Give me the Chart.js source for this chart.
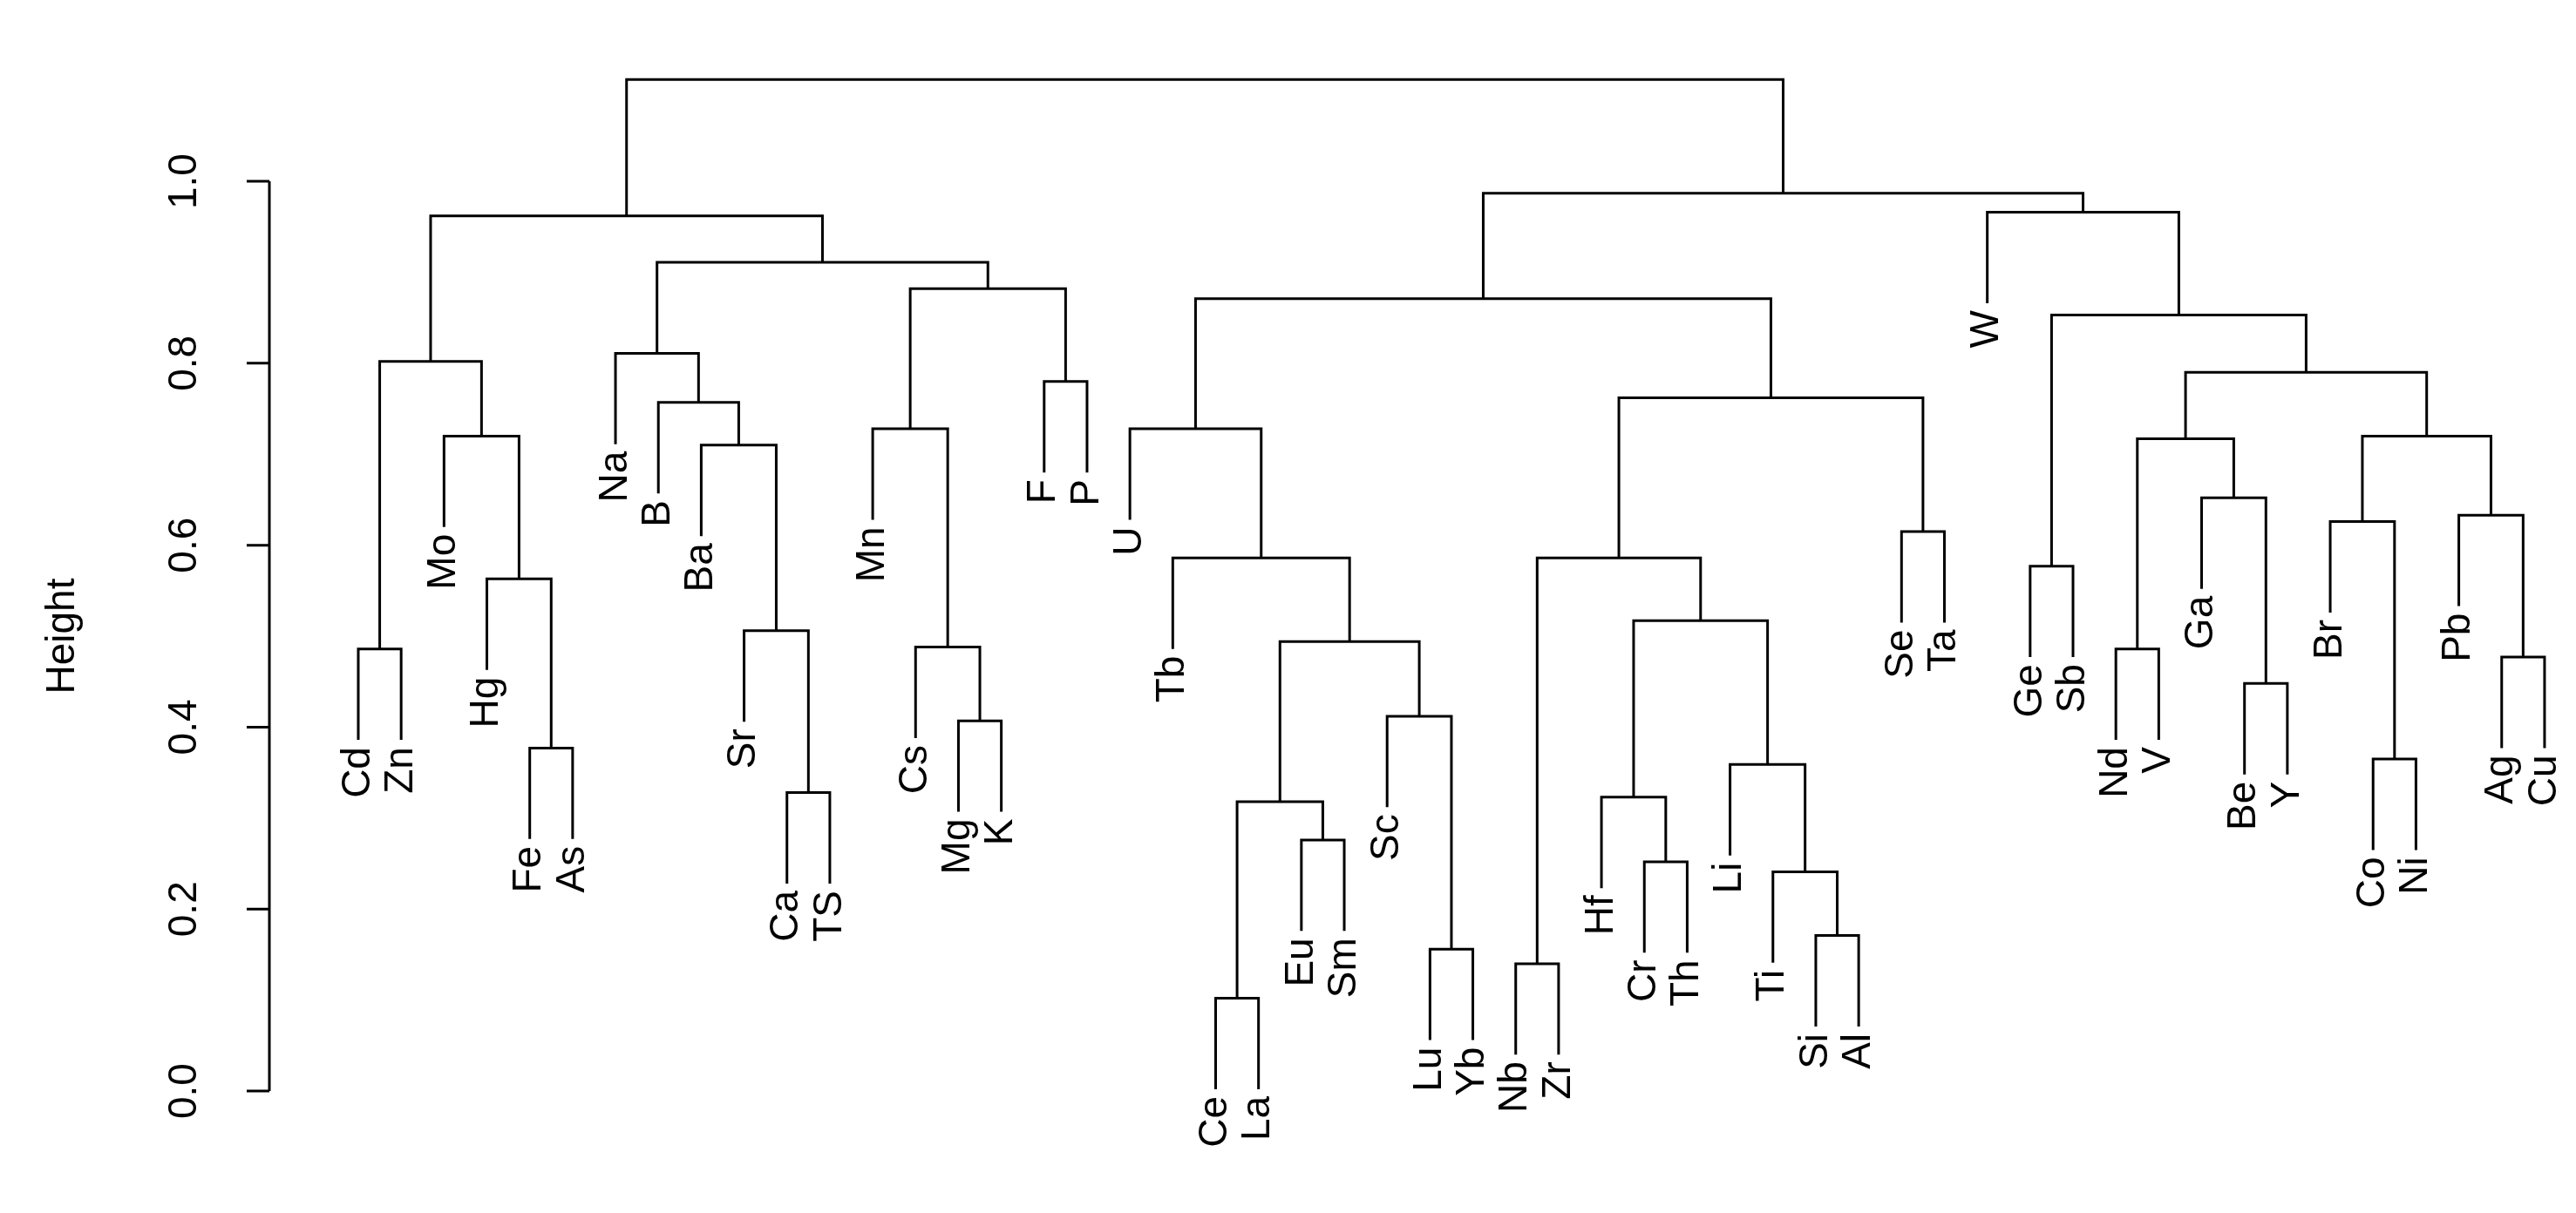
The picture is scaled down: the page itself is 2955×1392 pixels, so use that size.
<!DOCTYPE html>
<html>
<head>
<meta charset="utf-8">
<script src="https://cdn.jsdelivr.net/npm/chart.js@4/dist/chart.umd.min.js"></script>
<style>
html, body { margin: 0; padding: 0; background: #fff; }
#wrap { width: 2955px; height: 1392px; }
</style>
</head>
<body>
<div id="wrap"><canvas id="dendro"></canvas></div>
<script>
// leaf labels in plotted order
var leaves = ['Cd','Zn','Mo','Hg','Fe','As','Na','B','Ba','Sr','Ca','TS','Mn','Cs','Mg','K','F','P',
    'U','Tb','Ce','La','Eu','Sm','Sc','Lu','Yb','Nb','Zr','Hf','Cr','Th','Li','Ti','Si','Al','Se','Ta',
    'W','Ge','Sb','Nd','V','Ga','Be','Y','Br','Co','Ni','Pb','Ag','Cu'];

// merges: negative = leaf (1-based), positive = earlier merge (1-based)
var mergeLeft  = [-1,-5,-4,-3,1,-11,-10,-9,-8,-7,-15,-14,-13,-17,13,10,5,
    -21,-23,18,-26,-25,20,-20,-19,-28,-31,-30,-35,-34,-33,28,26,-37,33,25,
    -40,-42,-45,-44,38,-48,-47,-51,-50,43,41,37,-39,36,17];
var mergeRight = [-2,-6,2,3,4,-12,6,7,8,9,-16,11,12,-18,14,15,16,
    -22,-24,19,-27,21,22,23,24,-29,-32,27,-36,29,30,31,32,-38,34,35,
    -41,-43,-46,39,40,-49,42,-52,44,45,46,47,48,49,50];
var mergeHeight = [0.486,0.377,0.563,0.720,0.802,0.328,0.506,0.710,0.757,0.811,0.407,0.488,0.728,0.780,0.882,0.911,0.962,
    0.102,0.276,0.318,0.156,0.412,0.494,0.586,0.728,0.140,0.252,0.323,0.171,0.241,0.359,0.517,0.586,0.615,0.762,0.871,
    0.577,0.486,0.448,0.652,0.717,0.365,0.626,0.477,0.633,0.720,0.790,0.853,0.966,0.987,1.112];

var yTicks = [0.0, 0.2, 0.4, 0.6, 0.8, 1.0];
var hang = 0.1;

var nodeX = [];
var leafBottom = [];
var datasets = [];
function childX(c) { return c < 0 ? -c : nodeX[c - 1]; }
for (var i = 0; i < mergeHeight.length; i++) {
    var a = mergeLeft[i], b = mergeRight[i], h = mergeHeight[i];
    var xa = childX(a), xb = childX(b);
    var ya = a < 0 ? h - hang : mergeHeight[a - 1];
    var yb = b < 0 ? h - hang : mergeHeight[b - 1];
    if (a < 0) leafBottom[-a - 1] = ya;
    if (b < 0) leafBottom[-b - 1] = yb;
    nodeX.push((xa + xb) / 2);
    datasets.push({
        data: [{x: xa, y: ya}, {x: xa, y: h}, {x: xb, y: h}, {x: xb, y: yb}],
        showLine: true,
        borderColor: '#000',
        borderWidth: 3,
        pointRadius: 0,
        tension: 0
    });
}

var FONT = '46px "Liberation Sans", Arial, sans-serif';

var dendroDecor = {
    id: 'dendroDecor',
    afterDraw: function (chart) {
        var c = chart.ctx, xs = chart.scales.x, ys = chart.scales.y;
        c.save();
        c.fillStyle = '#000';
        c.strokeStyle = '#000';
        c.lineWidth = 3;
        c.font = FONT;
        // leaf labels
        leaves.forEach(function (name, i) {
            var px = xs.getPixelForValue(i + 1);
            var py = ys.getPixelForValue(leafBottom[i]) + 8;
            c.save();
            c.translate(px, py);
            c.rotate(-Math.PI / 2);
            c.textAlign = 'right';
            c.textBaseline = 'middle';
            c.fillText(name, 0, 0);
            c.restore();
        });
        // y axis
        var ax = 309;
        c.beginPath();
        c.moveTo(ax, ys.getPixelForValue(0));
        c.lineTo(ax, ys.getPixelForValue(1.0));
        yTicks.forEach(function (t) {
            var py = ys.getPixelForValue(t);
            c.moveTo(ax, py);
            c.lineTo(ax - 26, py);
        });
        c.stroke();
        yTicks.forEach(function (t) {
            var py = ys.getPixelForValue(t);
            c.save();
            c.translate(212, py);
            c.rotate(-Math.PI / 2);
            c.textAlign = 'center';
            c.textBaseline = 'middle';
            c.fillText(t.toFixed(1), 0, 0);
            c.restore();
        });
        c.save();
        c.translate(72, ys.getPixelForValue(0.5));
        c.rotate(-Math.PI / 2);
        c.textAlign = 'center';
        c.textBaseline = 'middle';
        c.fillText('Height', 0, 0);
        c.restore();
        c.restore();
    }
};

new Chart(document.getElementById('dendro').getContext('2d'), {
    type: 'scatter',
    data: { datasets: datasets },
    options: {
        responsive: true,
        maintainAspectRatio: false,
        animation: false,
        layout: { padding: { left: 309, right: 10, top: 40, bottom: 22 } },
        plugins: { legend: { display: false }, tooltip: { enabled: false } },
        scales: {
            x: { type: 'linear', min: -1.074, max: 52.53, display: false },
            y: { type: 'linear', min: -0.113, max: 1.161, display: false }
        }
    },
    plugins: [dendroDecor]
});
</script>
</body>
</html>
